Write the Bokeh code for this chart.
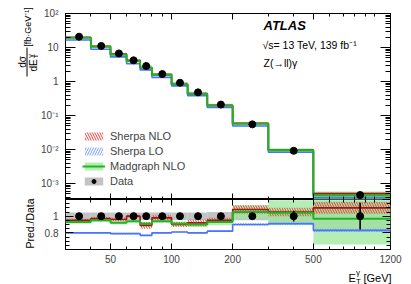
import math
from bokeh.plotting import figure
from bokeh.models import (FixedTicker, LogAxis, LinearAxis, Label, Legend, LegendItem,
                          CustomJSTickFormatter, Range1d)
from bokeh.layouts import column, row
from bokeh.embed import file_html
from bokeh.resources import INLINE

# ---------------- data ----------------
edges = [30, 40, 50, 60, 70, 80, 100, 120, 150, 200, 300, 500, 1200]
data_xs = [20.8, 11.1, 6.7, 4.2, 2.86, 1.66, 0.92, 0.48, 0.21, 0.055, 0.0092, 0.00046]
data_stat = [0.01, 0.01, 0.012, 0.015, 0.015, 0.015, 0.02, 0.02, 0.025, 0.035, 0.065, 0.16]
data_tot = [0.045, 0.045, 0.045, 0.045, 0.045, 0.045, 0.045, 0.045, 0.05, 0.05, 0.07, 0.18]

nlo_xs = [19.76, 10.77, 6.43, 4.2, 2.545, 1.627, 0.828, 0.4416, 0.1995, 0.0594, 0.00966, 0.000506]
lo_xs = [16.64, 8.88, 5.293, 3.318, 2.202, 1.328, 0.7452, 0.384, 0.1722, 0.0495, 0.008372, 0.000382]
mg_xs = [19.34, 10.545, 6.164, 3.948, 2.603, 1.560, 0.8372, 0.432, 0.1953, 0.05775, 0.009568, 0.000446]

nlo_ratio = [0.95, 0.97, 0.96, 1.00, 0.89, 0.98, 0.90, 0.92, 0.95, 1.08, 1.05, 1.10]
lo_ratio = [0.80, 0.80, 0.79, 0.79, 0.77, 0.80, 0.81, 0.80, 0.82, 0.90, 0.91, 0.83]
mg_ratio = [0.93, 0.95, 0.92, 0.94, 0.91, 0.94, 0.91, 0.90, 0.93, 1.05, 1.04, 0.97]
data_ratio = [1.0] * 12

nlo_unc = [0.02, 0.02, 0.02, 0.02, 0.04, 0.03, 0.03, 0.04, 0.03, 0.05, 0.05, 0.07]
lo_unc = [0.01, 0.01, 0.01, 0.01, 0.01, 0.01, 0.01, 0.01, 0.01, 0.015, 0.015, 0.02]
mg_unc = [0.02, 0.02, 0.02, 0.02, 0.02, 0.02, 0.025, 0.03, 0.04, 0.08, 0.15, 0.31]

x_major = [50, 100, 200, 500, 1200]
x_minor = [30, 40, 60, 70, 80, 90, 300, 400, 600, 700, 800, 900, 1000]
y_major = [1e-3, 1e-2, 1e-1, 1, 10, 100]
r_major = [0.6, 0.8, 1.0, 1.2]
r_minor = [0.65, 0.7, 0.75, 0.85, 0.9, 0.95, 1.05, 1.1, 1.15]

FONT = "Liberation Sans"
RED = "#e8413c"; RED_LINE = "#a01818"
BLUE = "#4a74ff"; BLUE_H = "#7a9bff"
GREEN = "#1fb51f"; GREEN_B = "#9be89b"
GRAY = "#b4b4b4"

left = edges[:-1]
right = edges[1:]
centers = [(a + b) / 2 for a, b in zip(left, right)]
y_minor = [k * 10.0 ** e for e in range(-4, 2) for k in range(2, 10)]
HALF = math.pi / 2


def band(vals, unc):
    return [v * (1 - u) for v, u in zip(vals, unc)], [v * (1 + u) for v, u in zip(vals, unc)]


def absband(vals, unc):
    return [v - u for v, u in zip(vals, unc)], [v + u for v, u in zip(vals, unc)]


def ext(vals):
    return list(vals) + [vals[-1]]


def style(ax, tin, tmin, labels=True, size="10px", standoff=6):
    ax.major_tick_in = tin
    ax.major_tick_out = 0
    ax.minor_tick_in = tmin
    ax.minor_tick_out = 0
    ax.axis_line_color = None
    ax.major_tick_line_color = "black"
    ax.minor_tick_line_color = "black"
    ax.major_label_text_font = FONT
    ax.major_label_text_font_size = size
    ax.major_label_standoff = standoff
    if not labels:
        ax.major_label_text_font_size = "0px"
        ax.major_label_standoff = 0
        ax.formatter = CustomJSTickFormatter(code="return '';")


def lab(p, x, y, text, size, angle=0.0, align="left", baseline="middle", fstyle="normal",
        units="data"):
    p.add_layout(Label(x=x, y=y, x_units=units, y_units=units, text=text, angle=angle,
                       text_font=FONT, text_font_size=f"{size}px", text_align=align,
                       text_baseline=baseline, text_font_style=fstyle, text_color="black"))


def strip(w, h, x0, y0):
    # blank panel whose data coordinates are window pixels (y downwards)
    s = figure(width=w, height=h, x_range=Range1d(x0, x0 + w), y_range=Range1d(y0 + h, y0),
               output_backend="svg", toolbar_location=None, x_axis_location=None,
               y_axis_location=None, min_border=0)
    s.grid.visible = False
    s.outline_line_color = None
    return s


xt = FixedTicker(ticks=x_major, minor_ticks=x_minor)
yt = FixedTicker(ticks=y_major, minor_ticks=y_minor)
rt = FixedTicker(ticks=r_major, minor_ticks=r_minor)

# ---------------- y title strip (both panels) ----------------
ylab = strip(38, 266, 0, 0)
lab(ylab, 27, 26.5, "[fb\u00b7GeV\u207b\u00b9]", 9, angle=HALF, align="center")
lab(ylab, 21.5, 61.5, "d\u03c3", 10, angle=HALF, align="center")
ylab.segment(x0=[26.5], x1=[26.5], y0=[47], y1=[76], line_color="black", line_width=1)
lab(ylab, 32.5, 65, "dE", 10, angle=HALF, align="center")
lab(ylab, 29.5, 55.5, "\u03b3", 7, angle=HALF, align="center")
lab(ylab, 35.5, 55.5, "T", 7, angle=HALF, align="center")
lab(ylab, 29, 223, "Pred./Data", 10.5, angle=HALF, align="center")

# ---------------- main panel ----------------
p1 = figure(width=373, height=199, x_axis_type="log", y_axis_type="log",
            x_range=Range1d(30, 1200), y_range=Range1d(3.4e-4, 100),
            output_backend="svg", toolbar_location=None,
            min_border_left=27, min_border_right=21, min_border_top=13, min_border_bottom=0)
p1.grid.visible = False
p1.outline_line_color = "black"

b0, b1 = band(data_xs, data_tot)
r_dband = p1.quad(left=left, right=right, bottom=b0, top=b1, fill_color=GRAY, fill_alpha=0.8, line_color=None)
b0, b1 = band(mg_xs, mg_unc)
r_mgband = p1.quad(left=left, right=right, bottom=b0, top=b1, fill_color=GREEN_B, fill_alpha=0.75, line_color=None)
b0, b1 = band(nlo_xs, nlo_unc)
r_nloband = p1.quad(left=left, right=right, bottom=b0, top=b1, fill_alpha=0, line_color=None,
                    hatch_pattern="\\", hatch_color=RED, hatch_scale=5, hatch_weight=1)
b0, b1 = band(lo_xs, lo_unc)
r_loband = p1.quad(left=left, right=right, bottom=b0, top=b1, fill_alpha=0, line_color=None,
                   hatch_pattern="/", hatch_color=BLUE_H, hatch_scale=5, hatch_weight=1)
p1.step(x=edges, y=ext(lo_xs), mode="after", line_color=BLUE, line_width=1.6)
p1.step(x=edges, y=ext(nlo_xs), mode="after", line_color=RED_LINE, line_width=1.6)
r_mgline = p1.step(x=edges, y=ext(mg_xs), mode="after", line_color=GREEN, line_width=2)
e0, e1 = band(data_xs, data_stat)
p1.segment(x0=centers, x1=centers, y0=e0, y1=e1, line_color="black", line_width=1.6)
r_pts = p1.scatter(x=centers, y=data_xs, size=7, color="black")

style(p1.xaxis[0], 6, 3, labels=False)
style(p1.yaxis[0], 10, 5, standoff=7)
p1.yaxis[0].ticker = yt
p1.xaxis[0].ticker = xt
p1.yaxis[0].major_label_text_align = "right"
p1.yaxis[0].formatter = CustomJSTickFormatter(code="""
const e = Math.round(Math.log10(tick));
if (e == 0) return '1';
if (e == 1) return '10';
const m = {'-':'\u207b','0':'\u2070','1':'\u00b9','2':'\u00b2','3':'\u00b3','4':'\u2074'};
return '10' + String(e).split('').map(c => m[c]).join('');
""")
top1 = LogAxis(ticker=xt)
style(top1, 6, 3, labels=False)
p1.add_layout(top1, "above")
right1 = LogAxis(ticker=yt)
style(right1, 10, 5, labels=False)
p1.add_layout(right1, "right")

legend = Legend(items=[
    LegendItem(label="Sherpa NLO", renderers=[r_nloband]),
    LegendItem(label="Sherpa LO", renderers=[r_loband]),
    LegendItem(label="Madgraph NLO", renderers=[r_mgband, r_mgline]),
    LegendItem(label="Data", renderers=[r_dband, r_pts]),
], location=(17, 12), glyph_width=23, glyph_height=10, label_height=10, spacing=3,
    label_standoff=5, padding=0, margin=0, border_line_color=None, background_fill_alpha=0,
    label_text_font=FONT, label_text_font_size="11px")
p1.add_layout(legend)

lab(p1, 225, 25, "ATLAS", 13, fstyle="bold italic", units="canvas")
lab(p1, 224, 44, "\u221as= 13 TeV, 139 fb\u207b\u00b9", 10.5, units="canvas")
lab(p1, 225, 62, "Z(\u2192ll)\u03b3", 10.5, units="canvas")

# ---------------- ratio panel ----------------
p2 = figure(width=373, height=67, x_axis_type="log",
            x_range=p1.x_range, y_range=Range1d(0.6, 1.2),
            output_backend="svg", toolbar_location=None,
            min_border_left=27, min_border_right=21, min_border_top=0, min_border_bottom=17)
p2.grid.visible = False
p2.outline_line_color = "black"

b0, b1 = absband(data_ratio, data_tot)
p2.quad(left=left, right=right, bottom=b0, top=b1, fill_color=GRAY, fill_alpha=0.8, line_color=None)
b0, b1 = absband(mg_ratio, mg_unc)
p2.quad(left=left, right=right, bottom=b0, top=b1, fill_color=GREEN_B, fill_alpha=0.75, line_color=None)
b0, b1 = absband(nlo_ratio, nlo_unc)
p2.quad(left=left, right=right, bottom=b0, top=b1, fill_alpha=0, line_color=None,
        hatch_pattern="\\", hatch_color=RED, hatch_scale=5, hatch_weight=1)
b0, b1 = absband(lo_ratio, lo_unc)
p2.quad(left=left, right=right, bottom=b0, top=b1, fill_alpha=0, line_color=None,
        hatch_pattern="/", hatch_color=BLUE_H, hatch_scale=5, hatch_weight=1)
p2.step(x=edges, y=ext(lo_ratio), mode="after", line_color=BLUE, line_width=1.6)
p2.step(x=edges, y=ext(nlo_ratio), mode="after", line_color=RED_LINE, line_width=1.6)
p2.step(x=edges, y=ext(mg_ratio), mode="after", line_color=GREEN, line_width=2)
e0, e1 = absband(data_ratio, data_stat)
p2.segment(x0=centers, x1=centers, y0=e0, y1=e1, line_color="black", line_width=1.6)
p2.scatter(x=centers, y=data_ratio, size=7, color="black")

style(p2.xaxis[0], 6, 3, size="10px", standoff=5)
p2.xaxis[0].ticker = xt
p2.xaxis[0].formatter = CustomJSTickFormatter(code="return tick.toFixed(0);")
style(p2.yaxis[0], 8, 4, standoff=7)
p2.yaxis[0].ticker = rt
p2.yaxis[0].major_label_text_align = "right"
p2.yaxis[0].formatter = CustomJSTickFormatter(
    code="if (Math.abs(tick-1)<1e-6) return '1'; if (Math.abs(tick-0.8)<1e-6) return '0.8'; return '';")
top2 = LogAxis(ticker=xt)
style(top2, 6, 3, labels=False)
p2.add_layout(top2, "above")
right2 = LinearAxis(ticker=rt)
style(right2, 8, 4, labels=False)
p2.add_layout(right2, "right")

# ---------------- x title strip ----------------
xlab = strip(411, 18, 0, 266)
lab(xlab, 348, 277.5, "E", 11, baseline="alphabetic")
lab(xlab, 355.5, 272, "\u03b3", 8, baseline="alphabetic")
lab(xlab, 355.5, 280.5, "T", 8, baseline="alphabetic")
lab(xlab, 363, 277.5, "[GeV]", 11, baseline="alphabetic")

layout = column(row(ylab, column(p1, p2)), xlab)
open("out.html", "w").write(file_html(layout, INLINE))
